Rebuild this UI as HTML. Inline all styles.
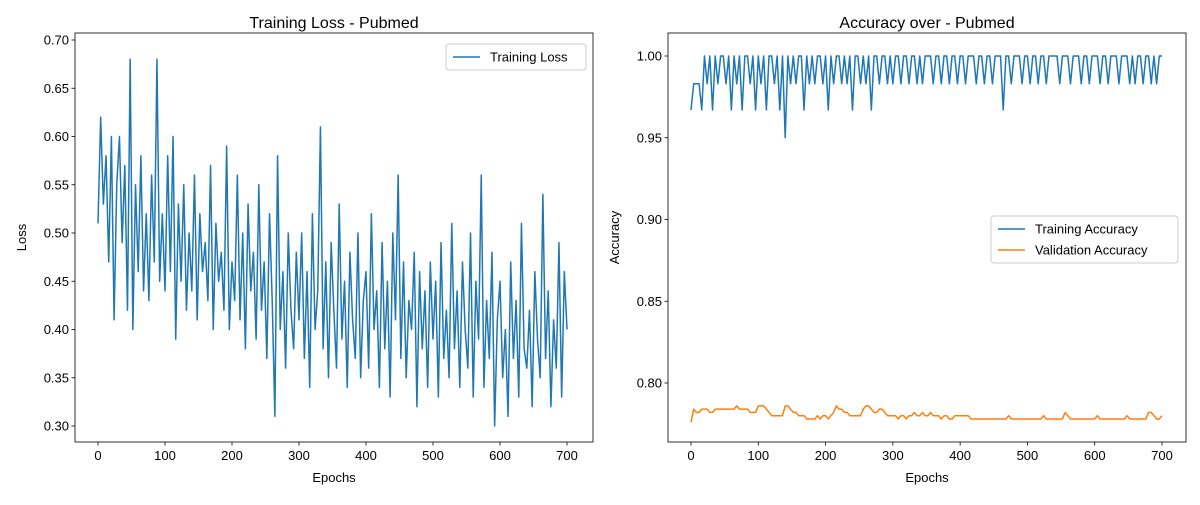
<!DOCTYPE html>
<html><head><meta charset="utf-8"><style>
body{margin:0;background:#fff}
svg text{font-family:"Liberation Sans","DejaVu Sans",sans-serif;fill:#000}
</style></head><body>
<svg id="c" width="1200" height="500" xmlns="http://www.w3.org/2000/svg"></svg>
<script>
const lossValues=[0.51,0.62,0.53,0.58,0.47,0.60,0.41,0.55,0.60,0.49,0.57,0.42,0.68,0.40,0.55,0.46,0.58,0.44,0.52,0.43,0.56,0.47,0.68,0.45,0.52,
0.44,0.58,0.46,0.60,0.39,0.53,0.45,0.55,0.42,0.50,0.44,0.56,0.41,0.52,0.46,0.49,0.43,0.57,0.40,0.51,0.45,0.48,0.42,0.59,0.40,
0.47,0.43,0.56,0.41,0.50,0.38,0.53,0.44,0.48,0.39,0.55,0.42,0.47,0.37,0.52,0.43,0.31,0.58,0.40,0.46,0.36,0.50,0.42,0.38,0.48,
0.41,0.50,0.37,0.46,0.34,0.52,0.40,0.44,0.61,0.38,0.47,0.35,0.49,0.42,0.36,0.53,0.39,0.45,0.34,0.48,0.41,0.37,0.50,0.35,0.43,
0.46,0.36,0.52,0.40,0.44,0.34,0.49,0.38,0.45,0.33,0.50,0.41,0.56,0.37,0.47,0.35,0.43,0.40,0.48,0.32,0.46,0.38,0.44,0.34,0.47,
0.39,0.45,0.33,0.49,0.37,0.42,0.35,0.51,0.38,0.44,0.34,0.47,0.40,0.36,0.50,0.33,0.45,0.39,0.56,0.34,0.43,0.37,0.48,0.30,0.41,
0.45,0.35,0.40,0.31,0.47,0.37,0.43,0.33,0.51,0.38,0.36,0.42,0.32,0.46,0.39,0.35,0.54,0.37,0.44,0.32,0.41,0.36,0.49,0.33,0.46,0.40];
const trainAcc=[.967,.983,.983,.983,.967,1,.983,1,.967,1,.983,1,1,.983,1,.967,1,.983,1,.967,1,1,.983,1,.967,
1,.983,1,.967,1,1,.983,1,.967,1,.95,1,.983,1,.983,1,1,.967,1,.983,1,.983,1,1,.983,
1,.967,1,.983,1,1,.983,1,.983,1,.967,1,1,.983,1,.983,1,.967,1,1,.983,1,1,.983,1,
.983,1,1,.983,1,1,.983,1,1,.983,1,.983,1,1,1,.983,1,1,.983,1,1,.983,1,1,.983,
1,1,.983,1,1,1,.983,1,1,.983,1,1,.983,1,1,1,.967,1,1,.983,1,1,1,.983,1,
1,.983,1,1,.983,1,1,.983,1,1,1,1,.983,1,1,1,.983,1,1,1,.983,1,1,.983,1,
1,1,.983,1,1,.983,1,1,1,.983,1,1,1,.983,1,.983,1,1,.983,1,1,.983,1,.983,1,1];
const valAcc=[.776,.784,.782,.782,.784,.784,.784,.782,.782,.784,.784,.784,.784,.784,.784,.784,.784,.786,.784,.784,.784,.784,.782,.782,.782,
.786,.786,.786,.784,.782,.780,.780,.780,.780,.780,.786,.786,.784,.782,.782,.780,.780,.780,.778,.778,.778,.778,.780,.778,.780,
.780,.778,.780,.782,.786,.784,.784,.782,.782,.780,.780,.780,.780,.780,.784,.786,.786,.784,.782,.782,.784,.784,.782,.780,.780,
.780,.780,.778,.780,.780,.778,.780,.780,.782,.780,.780,.782,.780,.780,.782,.780,.780,.780,.778,.780,.780,.778,.778,.780,.780,
.780,.780,.780,.780,.778,.778,.778,.778,.778,.778,.778,.778,.778,.778,.778,.778,.778,.778,.780,.778,.778,.778,.778,.778,.778,
.778,.778,.778,.778,.778,.778,.780,.778,.778,.778,.778,.778,.778,.778,.782,.780,.778,.778,.778,.778,.778,.778,.778,.778,.778,
.778,.780,.778,.778,.778,.778,.778,.778,.778,.778,.778,.778,.780,.778,.778,.778,.778,.778,.778,.778,.782,.782,.780,.778,.778,.780];
const epochStep=4;
const xTicks=[0,100,200,300,400,500,600,700];
const lossTicks=[0.30,0.35,0.40,0.45,0.50,0.55,0.60,0.65,0.70];
const accTicks=[0.80,0.85,0.90,0.95,1.00];

const svg=document.getElementById('c');
const NS='http://www.w3.org/2000/svg';
function mk(t,a,p){const e=document.createElementNS(NS,t);for(const k in a)e.setAttribute(k,a[k]);(p||svg).appendChild(e);return e;}
function txt(s,a,p){const e=mk('text',a,p);e.textContent=s;return e;}

function panel(o){
  const g=mk('g',{});
  
  
  const X=v=>o.x0+(v-o.xd0)/(o.xd1-o.xd0)*(o.x1-o.x0);
  const Y=v=>o.y0+(v-o.yd0)/(o.yd1-o.yd0)*(o.y1-o.y0);
  o.series.forEach(s=>{
    const pts=s.vals.map((v,i)=>X(i*epochStep).toFixed(2)+','+Y(v).toFixed(2)).join(' ');
    const l=mk('polyline',{points:pts,fill:'none',stroke:s.color,'stroke-width':1.5,'stroke-linejoin':'round'},g);
    
    
  });
  const f=mk('rect',{x:o.L,y:o.T,width:o.R-o.L,height:o.B-o.T,fill:'none',stroke:'#000','stroke-width':0.8},g);
  
  
  xTicks.forEach(t=>{const x=X(t);mk('line',{x1:x,x2:x,y1:o.B,y2:o.B+3.5,stroke:'#000','stroke-width':0.8},g);
    const e=txt(String(t),{x:x,y:o.B+18,'text-anchor':'middle','font-size':13},g);
    
    });
  o.yTicks.forEach(t=>{const y=Y(t);mk('line',{x1:o.L-3.5,x2:o.L,y1:y,y2:y,stroke:'#000','stroke-width':0.8},g);
    const e=txt(t.toFixed(2),{x:o.L-6,y:y+4.5,'text-anchor':'end','font-size':13},g);
    
    });
  let e=txt(o.title,{x:(o.L+o.R)/2,y:28,'text-anchor':'middle','font-size':16},g);
  
  
  e=txt('Epochs',{x:(o.L+o.R)/2,y:482,'text-anchor':'middle','font-size':13},g);
  
  
  const cy=(o.T+o.B)/2;
  e=txt(o.ylab,{x:o.ylx,y:cy,'text-anchor':'middle','font-size':13,transform:`rotate(-90 ${o.ylx} ${cy})`},g);
  
  
  const lg=mk('g',{},g);
  
  
  mk('rect',{x:o.lx,y:o.ly,width:o.lw,height:o.series.length*21+5,rx:3,fill:'#fff','fill-opacity':0.8,stroke:'#ccc'},lg);
  o.series.forEach((s,i)=>{const yy=o.ly+13+i*21;
    mk('line',{x1:o.lx+7,x2:o.lx+34,y1:yy,y2:yy,stroke:s.color,'stroke-width':1.5},lg);
    const t=txt(s.label,{x:o.lx+44,y:yy+4.5,'font-size':13},lg);
    
    });
}
panel({name:'loss-panel',L:75,R:593,T:33,B:442,x0:98,x1:567,xd0:0,xd1:700,y0:426,y1:40,yd0:0.30,yd1:0.70,
  yTicks:lossTicks,title:'Training Loss - Pubmed',ylab:'Loss',ylx:26,lx:446,ly:44,lw:140,
  series:[{id:'training-loss-line',vals:lossValues,color:'#1f77b4',label:'Training Loss'}]});
panel({name:'accuracy-panel',L:668,R:1186,T:33,B:442,x0:691,x1:1162,xd0:0,xd1:700,y0:383,y1:56,yd0:0.80,yd1:1.00,
  yTicks:accTicks,title:'Accuracy over - Pubmed',ylab:'Accuracy',ylx:619,lx:991,ly:216,lw:187,
  series:[{id:'training-accuracy-line',vals:trainAcc,color:'#1f77b4',label:'Training Accuracy'},
          {id:'validation-accuracy-line',vals:valAcc,color:'#ff7f0e',label:'Validation Accuracy'}]});
</script>
</body></html>
